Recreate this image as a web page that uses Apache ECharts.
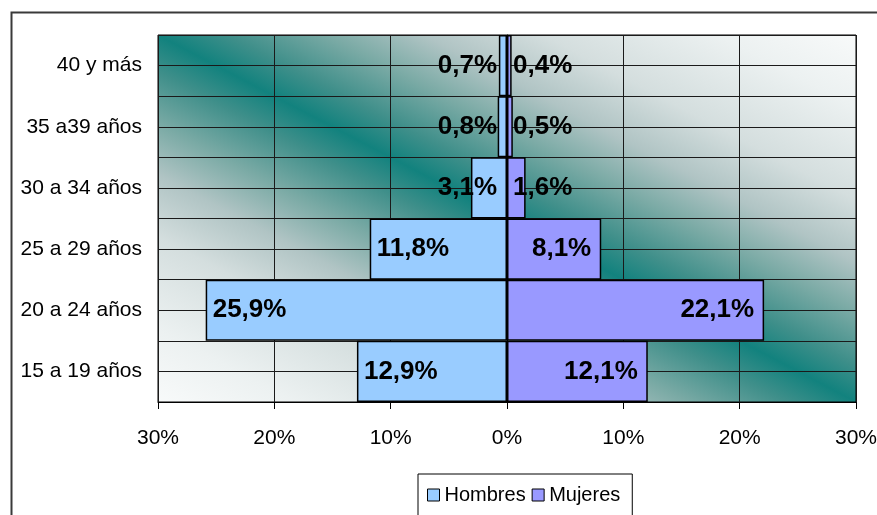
<!DOCTYPE html>
<html>
<head>
<meta charset="utf-8">
<script src="https://cdn.jsdelivr.net/npm/echarts@6/dist/echarts.min.js"></script>
<style>
html,body{margin:0;padding:0;background:#fff;}
#chart{width:877px;height:515px;}
</style>
</head>
<body>
<div id="chart"></div>
<script>
const categories = ['15 a 19 años', '20 a 24 años', '25 a 29 años', '30 a 34 años', '35 a39 años', '40 y más'];
const hombres = [12.9, 25.9, 11.8, 3.1, 0.8, 0.7];
const mujeres = [12.1, 22.1, 8.1, 1.6, 0.5, 0.4];
const xTicks = { min: -30, max: 30, interval: 10 };

const FONT = "'Liberation Sans', Arial, sans-serif";
const fmt = v => Math.abs(v).toFixed(1).replace('.', ',') + '%';

const labelBase = { show: true, fontFamily: FONT, fontWeight: 'bold', fontSize: 26, color: '#000', formatter: p => fmt(p.value) };

const hombresData = hombres.map(v => {
  const small = v < 5;
  return { value: -v, label: small ? { position: 'insideRight', distance: 10 } : { position: 'insideLeft', distance: 7 } };
});
const mujeresData = mujeres.map(v => {
  const small = v < 5;
  return { value: v, label: small ? { position: 'insideLeft', distance: 6 } : { position: 'insideRight', distance: 10 } };
});

const bgStops = [
  [0, '#f8fafa'], [0.1, '#ecf1f1'], [0.225, '#d4dede'], [0.31, '#b0c4c4'], [0.38, '#7aaaa5'], [0.45, '#3f8f8a'],
  [0.5, '#12827e'],
  [0.55, '#3f8f8a'], [0.62, '#7aaaa5'], [0.69, '#b0c4c4'], [0.775, '#d4dede'], [0.9, '#ecf1f1'], [1, '#f8fafa']
];

const chart = echarts.init(document.getElementById('chart'), null, { renderer: 'canvas' });
chart.setOption({
  animation: false,
  backgroundColor: '#fff',
  graphic: [{
    type: 'rect', left: 9, top: 10, shape: { x: 0, y: 0, width: 1000, height: 1000 },
    style: { fill: 'none', stroke: '#3a3a3a', lineWidth: 2 }, z: 100
  }],
  grid: {
    left: 158, right: 21, top: 35, bottom: 113,
    outerBoundsMode: 'none', containLabel: false,
    show: true, borderColor: '#000', borderWidth: 1,
    backgroundColor: {
      type: 'linear', x: 0.2834, y: 1.283, x2: 0.7166, y2: -0.283,
      colorStops: bgStops.map(s => ({ offset: s[0], color: s[1] }))
    }
  },
  legend: {
    data: ['Hombres', 'Mujeres'],
    left: 418, top: 474,
    orient: 'horizontal',
    icon: 'rect', itemWidth: 12, itemHeight: 12, itemGap: 6,
    padding: [11, 12, 30, 9],
    borderColor: '#000', borderWidth: 1,
    textStyle: { fontFamily: FONT, fontSize: 20, color: '#000' },
    itemStyle: { borderColor: '#000', borderWidth: 1 }
  },
  xAxis: {
    type: 'value', min: xTicks.min, max: xTicks.max, interval: xTicks.interval,
    axisLine: { show: true, lineStyle: { color: '#000', width: 1 } },
    axisTick: { show: true, length: 7, lineStyle: { color: '#000' } },
    splitLine: { show: true, lineStyle: { color: '#1a1a1a', width: 1 } },
    axisLabel: { formatter: v => Math.abs(v) + '%', fontFamily: FONT, fontSize: 21, color: '#000', margin: 26 }
  },
  yAxis: [{
    type: 'category', data: categories,
    axisLine: { show: true, lineStyle: { color: '#000' } },
    axisTick: { show: false },
    splitLine: { show: false },
    axisLabel: { fontFamily: FONT, fontSize: 21, color: '#000', margin: 16 }
  }, {
    type: 'value', min: 0, max: 12, interval: 1, position: 'left',
    axisLine: { show: false }, axisTick: { show: false }, axisLabel: { show: false },
    splitLine: { show: true, lineStyle: { color: '#1a1a1a', width: 1 } }
  }],
  series: [{
    name: 'Hombres', type: 'bar', yAxisIndex: 0, data: hombresData,
    barGap: '-100%', barCategoryGap: 0,
    itemStyle: { color: '#99CCFF', borderColor: '#000', borderWidth: 1.5 },
    label: labelBase
  }, {
    name: 'Mujeres', type: 'bar', yAxisIndex: 0, data: mujeresData,
    barGap: '-100%', barCategoryGap: 0,
    itemStyle: { color: '#9999FF', borderColor: '#000', borderWidth: 1.5 },
    label: labelBase
  }]
});
</script>
</body>
</html>
